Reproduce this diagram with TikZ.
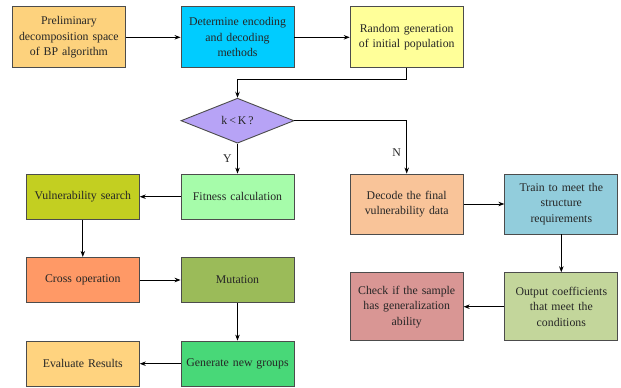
\documentclass[tikz,border=0pt]{standalone}
\usepackage{fontspec}
\setmainfont{Liberation Serif}
\usetikzlibrary{shapes.geometric,arrows.meta}
\definecolor{cPrelim}{HTML}{FDD27D}
\definecolor{cEncode}{HTML}{00CCFF}
\definecolor{cRandom}{HTML}{FFFF99}
\definecolor{cDiamond}{HTML}{B7A3F6}
\definecolor{cFitness}{HTML}{A6FCAA}
\definecolor{cVuln}{HTML}{C3CF21}
\definecolor{cCross}{HTML}{FF9966}
\definecolor{cMut}{HTML}{9BBB59}
\definecolor{cEval}{HTML}{FFD37F}
\definecolor{cGen}{HTML}{48D878}
\definecolor{cDecode}{HTML}{F9C499}
\definecolor{cTrain}{HTML}{92CDDC}
\definecolor{cOut}{HTML}{C3D69B}
\definecolor{cCheck}{HTML}{D99694}
\tikzset{
  box/.style={draw=black!70, line width=0.9pt, rectangle, inner sep=1pt,
    align=center, text=black!85, font=\fontsize{11.8}{15.5}\selectfont,
    minimum width=113pt, text width=110pt},
  tall/.style={box, minimum height=61pt},
  mid/.style={box, minimum height=45.3pt},
  big/.style={box, minimum height=68pt},
  decide/.style={draw=black!70, line width=0.9pt, diamond, aspect=2.5,
    inner sep=0pt, minimum width=113pt, minimum height=45pt,
    text=black!85, font=\fontsize{11.8}{15}\selectfont},
  link/.style={draw=black, line width=0.8pt, -{Stealth[length=6pt,width=4.5pt]}},
  tag/.style={font=\fontsize{11.8}{13}\selectfont, text=black!85}
}
\begin{document}
\begin{tikzpicture}[x=1pt,y=-1pt]
\useasboundingbox (0,0) rectangle (621,388);
% top row
\node[tall, fill=cPrelim] (prelim) at (68.9,37.3) {Preliminary\\decomposition space\\of BP algorithm};
\node[tall, fill=cEncode] (encode) at (237.5,37.3) {Determine encoding\\and decoding\\methods};
\node[tall, fill=cRandom] (random) at (406.7,37.3) {Random generation\\of initial population};
% decision
\node[decide, fill=cDiamond] (test) at (237.5,120.7) {k\,<\,K\,?};
% genetic loop (left)
\node[mid, fill=cFitness] (fit) at (237.5,196.7) {Fitness calculation};
\node[mid, fill=cVuln] (vuln) at (82.8,196.7) {Vulnerability search};
\node[mid, fill=cCross] (cross) at (82.8,280) {Cross operation};
\node[mid, fill=cMut] (mut) at (237.5,280) {Mutation};
\node[mid, fill=cEval] (eval) at (82.8,363.7) {Evaluate Results};
\node[mid, fill=cGen] (gen) at (237.5,363.7) {Generate new groups};
% output branch (right)
\node[box, minimum height=60pt, fill=cDecode] (decode) at (406.7,204) {Decode the final\\vulnerability data};
\node[box, minimum height=60pt, fill=cTrain] (train) at (561.3,204) {Train to meet the\\structure\\requirements};
\node[big, fill=cOut] (out) at (561.3,306.7) {Output coefficients\\that meet the\\conditions};
\node[big, fill=cCheck] (check) at (406.7,306.7) {Check if the sample\\has generalization\\ability};
% connectors
\draw[link] (prelim.east) -- (encode.west);
\draw[link] (encode.east) -- (random.west);
\draw[link] (random.south) -- ++(0,11) -| (test.north);
\draw[link] (test.south) -- node[tag, left, pos=0.5, xshift=-2pt] {Y} (fit.north);
\draw[link] (test.east) -| node[tag, left, pos=0.8, xshift=-2pt] {N} (decode.north);
\draw[link] (fit.west) -- (vuln.east);
\draw[link] (vuln.south) -- (cross.north);
\draw[link] (cross.east) -- (mut.west);
\draw[link] (mut.south) -- (gen.north);
\draw[link] (gen.west) -- (eval.east);
\draw[link] (decode.east) -- (train.west);
\draw[link] (train.south) -- (out.north);
\draw[link] (out.west) -- (check.east);
\end{tikzpicture}
\end{document}
